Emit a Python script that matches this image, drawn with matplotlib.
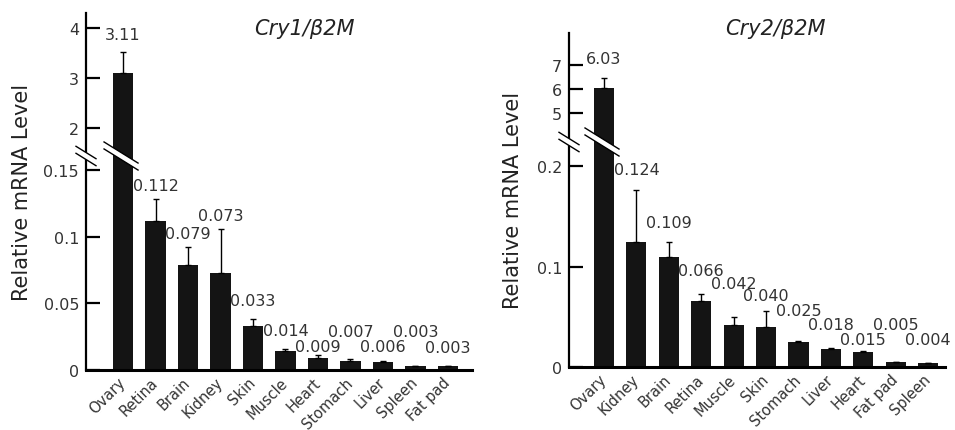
import matplotlib
matplotlib.use('Agg')
import matplotlib.pyplot as plt
import numpy as np
from matplotlib.lines import Line2D
from matplotlib.patches import Polygon

plt.rcParams['font.family'] = ['DejaVu Sans']

# ---------------- data ----------------
tissues_cry1 = ['Ovary', 'Retina', 'Brain', 'Kidney', 'Skin', 'Muscle',
                'Heart', 'Stomach', 'Liver', 'Spleen', 'Fat pad']
cry1_mean = [3.11, 0.112, 0.079, 0.073, 0.033, 0.014, 0.009, 0.007, 0.006, 0.003, 0.003]
cry1_err = [0.42, 0.016, 0.013, 0.033, 0.005, 0.002, 0.002, 0.001, 0.001, 0.0, 0.0]

tissues_cry2 = ['Ovary', 'Kidney', 'Brain', 'Retina', 'Muscle', 'Skin',
                'Stomach', 'Liver', 'Heart', 'Fat pad', 'Spleen']
cry2_mean = [6.03, 0.124, 0.109, 0.066, 0.042, 0.040, 0.025, 0.018, 0.015, 0.005, 0.004]
cry2_err = [0.43, 0.052, 0.015, 0.007, 0.008, 0.016, 0.001, 0.001, 0.001, 0.0, 0.0]

cry1_low_ticks = [0, 0.05, 0.1, 0.15]
cry1_low_ticklabels = ['0', '0.05', '0.1', '0.15']
cry1_high_ticks = [2, 3, 4]
cry2_low_ticks = [0, 0.1, 0.2]
cry2_low_ticklabels = ['0', '0.1', '0.2']
cry2_high_ticks = [5, 6, 7]

# label vertical offsets (pixels above error-bar top) -- style only
cry1_label_dy = [17, 14, 14, 13, 19, 18, 9, 28, 14, 34, 18]
cry2_label_dy = [19, 21, 20, 23, 33, 15, 30, 23, 11, 37, 23]

W, H = 955, 431
DPI = 100
fig = plt.figure(figsize=(W / DPI, H / DPI), dpi=DPI)
fig.patch.set_facecolor('white')

BAR_COLOR = '#141414'
TEXT_COLOR = '#333333'


def fmt(v):
    return f'{v:.2f}' if v >= 1 else f'{v:.3f}'


def px_to_fig(px, py):
    return px / W, 1 - py / H


def draw_break(cx, cy, half_len, slope=0.62, gap=7):
    """break mark centred at image pixel (cx, cy), descending to the right"""
    xs = np.array([cx - half_len, cx + half_len])
    ys = cy + slope * (xs - cx)
    top = ys - gap / 2
    bot = ys + gap / 2
    poly = [px_to_fig(xs[0], top[0]), px_to_fig(xs[1], top[1]),
            px_to_fig(xs[1], bot[1]), px_to_fig(xs[0], bot[0])]
    fig.add_artist(Polygon(poly, closed=True, facecolor='white', edgecolor='none',
                           transform=fig.transFigure, zorder=20))
    for yy in (top, bot):
        p0 = px_to_fig(xs[0], yy[0])
        p1 = px_to_fig(xs[1], yy[1])
        fig.add_artist(Line2D([p0[0], p1[0]], [p0[1], p1[1]], color='black', lw=1.0,
                              transform=fig.transFigure, zorder=21))


def panel(x0, x1, y_zero, y_break, y_top, low_lim, high_lim, xlim,
          names, means, errs, low_ticks, low_ticklabels, high_ticks,
          label_dy, title, title_xy, ylabel_xy):
    ax_lo = fig.add_axes([x0 / W, 1 - y_zero / H, (x1 - x0) / W, (y_zero - y_break) / H])
    ax_hi = fig.add_axes([x0 / W, 1 - y_break / H, (x1 - x0) / W, (y_break - y_top) / H])
    x = np.arange(len(names))
    means = np.asarray(means)
    errs = np.asarray(errs)
    for ax, lim in ((ax_lo, low_lim), (ax_hi, high_lim)):
        ax.set_facecolor('none')
        ax.bar(x, means, width=0.62, color=BAR_COLOR, zorder=2)
        ax.errorbar(x, means, yerr=[np.zeros_like(errs), errs], fmt='none',
                    ecolor='black', elinewidth=1.0, capsize=2.5, capthick=1.0, zorder=3)
        ax.set_xlim(*xlim)
        ax.set_ylim(*lim)
        for s in ('top', 'right'):
            ax.spines[s].set_visible(False)
        ax.spines['left'].set_linewidth(1.6)
        ax.tick_params(axis='y', direction='in', length=10, width=1.6,
                       labelsize=11.5, labelcolor=TEXT_COLOR, pad=5)
        for i, (m, e) in enumerate(zip(means, errs)):
            top = m + e
            if lim[0] <= top <= lim[1]:
                ax.annotate(fmt(m), xy=(i, top), xytext=(0, label_dy[i] * 0.72),
                            textcoords='offset points', ha='center', va='center',
                            fontsize=11.5, color=TEXT_COLOR, annotation_clip=False)
    ax_hi.spines['bottom'].set_visible(False)
    ax_hi.set_xticks([])
    ax_hi.set_yticks(high_ticks)
    ax_hi.set_yticklabels([str(t) for t in high_ticks])
    ax_lo.spines['bottom'].set_linewidth(2.2)
    ax_lo.set_yticks(low_ticks)
    ax_lo.set_yticklabels(low_ticklabels)
    ax_lo.set_xticks(x)
    ax_lo.set_xticklabels(names, rotation=45, ha='right', va='center',
                          rotation_mode='anchor', fontsize=10.5, color=TEXT_COLOR)
    ax_lo.tick_params(axis='x', length=0, pad=7)

    # break marks: on y axis and through the tallest bar
    bar_px = x0 + (0 - xlim[0]) / (xlim[1] - xlim[0]) * (x1 - x0)
    draw_break(x0, y_break, 10)
    draw_break(bar_px - 2, y_break, 17)

    fx, fy = px_to_fig(*title_xy)
    fig.text(fx, fy, title, style='italic', fontsize=15, ha='center', va='center',
             color='#222222')
    fx, fy = px_to_fig(*ylabel_xy)
    fig.text(fx, fy, 'Relative mRNA Level', rotation=90, fontsize=15,
             ha='center', va='center', color='#222222')


panel(86, 472, 371, 157, 14, (0, 0.1605), (1.44, 4.3), (-1.14, 10.74),
      tissues_cry1, cry1_mean, cry1_err, cry1_low_ticks, cry1_low_ticklabels,
      cry1_high_ticks, cry1_label_dy, 'Cry1/\u03b22M', (304, 29), (22, 192))

panel(569, 945, 368, 143, 34, (0, 0.2239), (3.79, 8.33), (-1.08, 10.52),
      tissues_cry2, cry2_mean, cry2_err, cry2_low_ticks, cry2_low_ticklabels,
      cry2_high_ticks, cry2_label_dy, 'Cry2/\u03b22M', (775, 29), (513, 200))

fig.savefig('out.png', dpi=DPI, facecolor='white')
